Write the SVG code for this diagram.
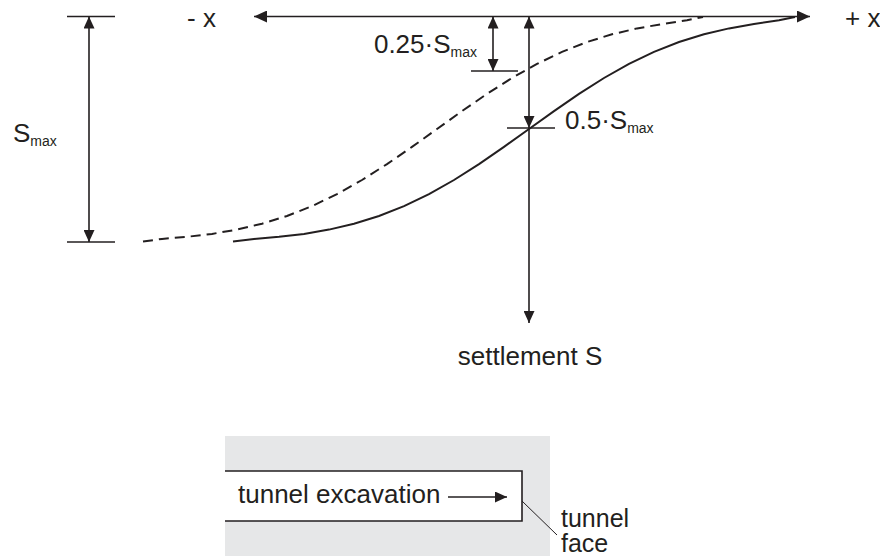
<svg xmlns="http://www.w3.org/2000/svg" width="880" height="556" viewBox="0 0 880 556">
<style>
.ln{stroke:#231f20;stroke-width:1.6;fill:none}
.cv{stroke:#231f20;stroke-width:2;fill:none}
.ds{stroke-dasharray:10 6}
.t{font-family:"Liberation Sans",Arial,sans-serif;font-size:26px;fill:#231f20}
.sm{font-size:25px}
.sub{font-size:14px}
</style>
<defs>
<marker id="ah" markerUnits="userSpaceOnUse" markerWidth="13" markerHeight="12" refX="13" refY="6" orient="auto-start-reverse">
<path d="M0,0 L13,6 L0,12 z" fill="#231f20"/>
</marker>
<marker id="av" markerUnits="userSpaceOnUse" markerWidth="12" markerHeight="11" refX="12" refY="5.5" orient="auto-start-reverse">
<path d="M0,0 L12,5.5 L0,11 z" fill="#231f20"/>
</marker>
</defs>
<g id="tunnel">
<rect x="225" y="436" width="325" height="120" fill="#e6e7e8"/>
<rect x="225" y="471" width="297" height="50" fill="#ffffff"/>
<path class="ln" d="M225,471 H522 V521 H225"/>
<text class="t" x="238" y="503">tunnel excavation</text>
<line class="ln" x1="448" y1="497" x2="507" y2="497" marker-end="url(#av)"/>
</g>
<g id="face-label">
<line x1="522" y1="501" x2="557" y2="535" stroke="#231f20" stroke-width="1"/>
<text class="t sm" x="561" y="527">tunnel</text>
<text class="t sm" x="561" y="552">face</text>
</g>
<g id="curves">
<path class="cv" d="M233,241.5 L254,238.9 L279,236.8 L304,233.9 L329,229.6 L354,223.7 L379,216 L404,206.1 L429,194.1 L454,180 L479,164.1 L504,146.9 L529,129 L554,111.1 L579,93.9 L604,78 L629,63.9 L654,51.9 L679,42 L704,34.3 L729,28.4 L754,24.1 L779,20.2 L795,17"/>
<path class="cv ds" d="M143,241.5 L162,238.9 L187,236.8 L212,233.9 L237,229.6 L262,223.7 L287,216 L312,206.1 L337,194.1 L362,180 L387,164.1 L412,146.9 L437,129 L462,111.1 L487,93.9 L512,78 L537,63.9 L562,51.9 L587,42 L612,34.3 L637,28.4 L662,24.1 L687,20.2 L703,17"/>
</g>
<g id="connectors">
<line class="ln" x1="254" y1="16.5" x2="810" y2="16.5" marker-start="url(#ah)" marker-end="url(#ah)"/>
<line class="ln" x1="67" y1="16.5" x2="115" y2="16.5"/>
<line class="ln" x1="67" y1="242" x2="115" y2="242"/>
<line class="ln" x1="89" y1="16.5" x2="89" y2="242" marker-start="url(#av)" marker-end="url(#av)"/>
<line class="ln" x1="471" y1="71" x2="518" y2="71"/>
<line class="ln" x1="493" y1="16.5" x2="493" y2="71" marker-start="url(#av)" marker-end="url(#av)"/>
<line class="ln" x1="507" y1="128" x2="555" y2="128"/>
<line class="ln" x1="529" y1="16.5" x2="529" y2="128" marker-start="url(#av)" marker-end="url(#av)"/>
<line class="ln" x1="529" y1="128" x2="529" y2="323" marker-end="url(#av)"/>
</g>
<g id="labels">
<text class="t" x="187" y="27">- x</text>
<text class="t" x="845" y="27">+ x</text>
<text class="t" x="13" y="142">S<tspan class="sub" dy="4">max</tspan></text>
<text class="t" x="477" y="53" text-anchor="end">0.25·S<tspan class="sub" dy="4">max</tspan></text>
<text class="t" x="565" y="129">0.5·S<tspan class="sub" dy="4">max</tspan></text>
<text class="t" x="530" y="365" text-anchor="middle">settlement S</text>
</g>
</svg>
